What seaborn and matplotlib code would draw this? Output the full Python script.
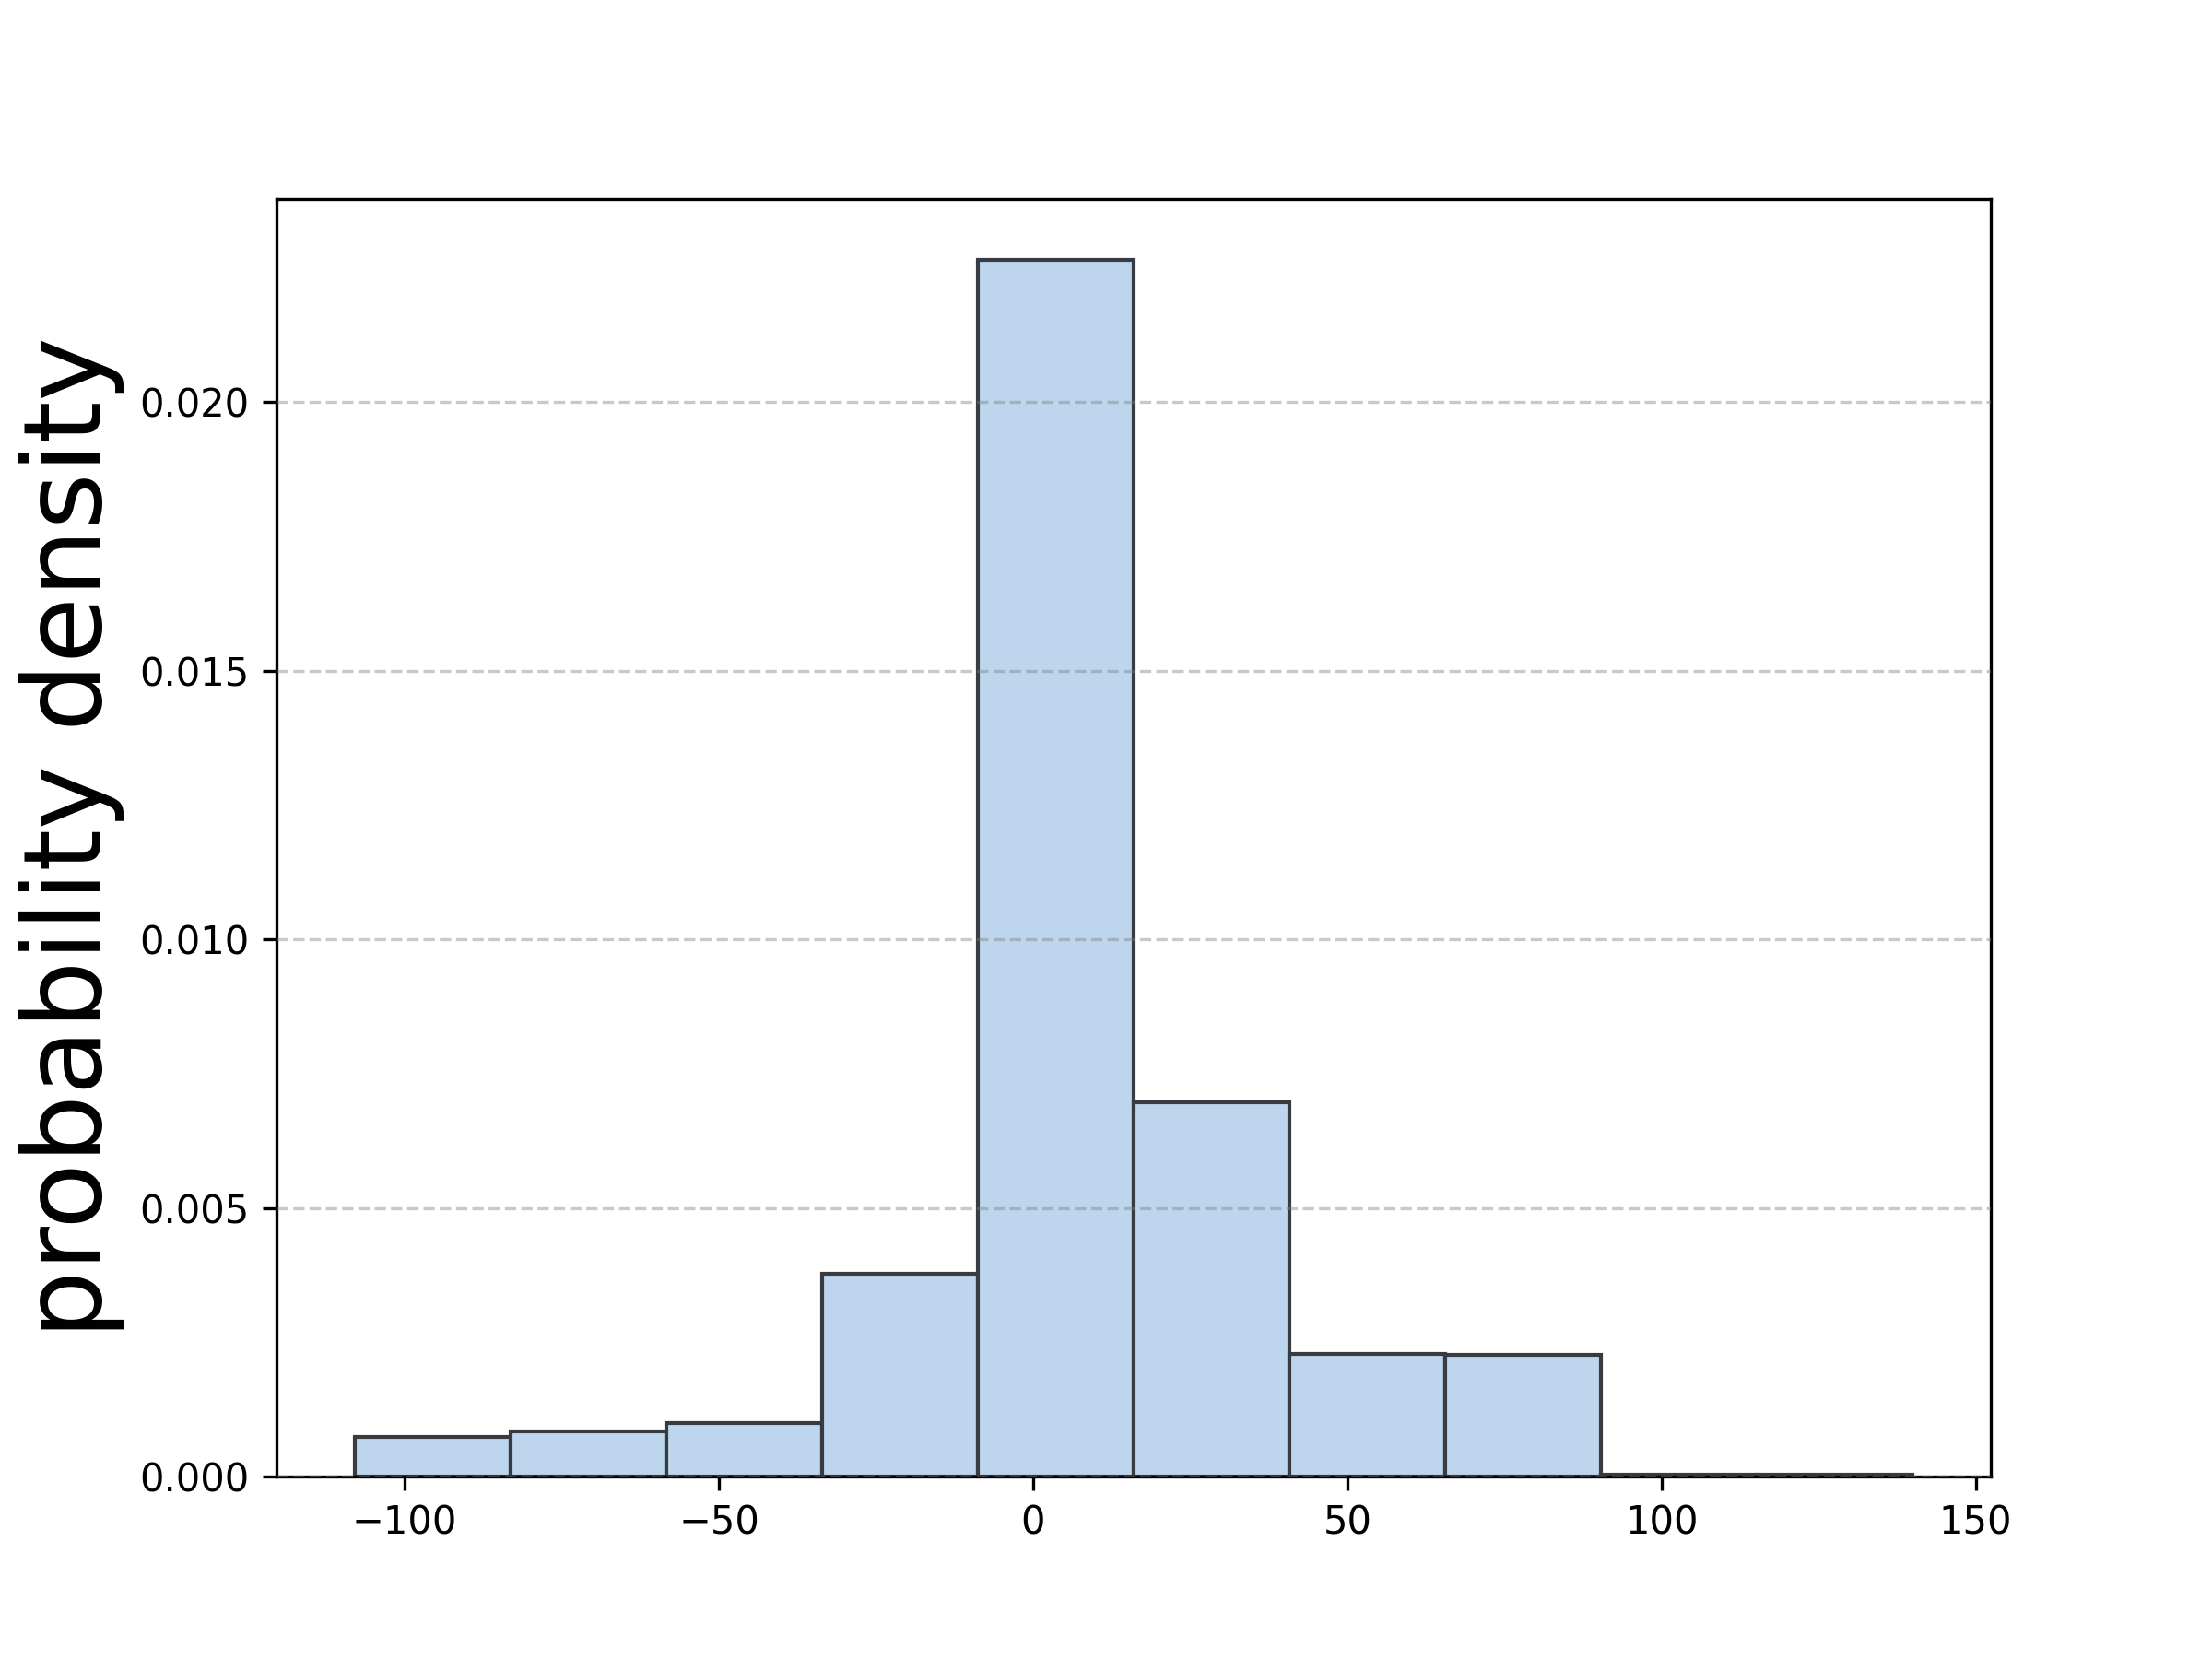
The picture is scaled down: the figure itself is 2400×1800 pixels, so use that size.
import matplotlib
matplotlib.use("Agg")
import matplotlib.pyplot as plt
import numpy as np
import seaborn as sns

# histogram bins (equal width ~24.8)
bin_edges = [-108.0, -83.2, -58.4, -33.6, -8.8, 16.0, 40.8, 65.6, 90.4, 115.2, 140.0]
densities = [0.000735, 0.00084, 0.00100, 0.00378, 0.02265,
             0.00696, 0.00228, 0.00226, 0.00003, 0.00003]

_bar_face = "#bdd6ee"
_bar_edge = "#383c41"

if __name__ == "__main__":
    centers = [(a + b) / 2 for a, b in zip(bin_edges[:-1], bin_edges[1:])]

    fig, ax = plt.subplots(figsize=(8, 6))

    sns.histplot(x=centers, weights=densities, bins=bin_edges, stat="count",
                 color=_bar_face, edgecolor=_bar_edge, linewidth=1.0,
                 alpha=1.0, ax=ax)

    # grid sits on top of the bars, semi-transparent
    ax.set_axisbelow(False)
    ax.yaxis.grid(True, linestyle="--", color="#808080", alpha=0.42, linewidth=0.8)
    ax.set_xlabel("")
    ax.set_ylabel("probability density", fontsize=28)

    fig.savefig("out.png", dpi=300)
